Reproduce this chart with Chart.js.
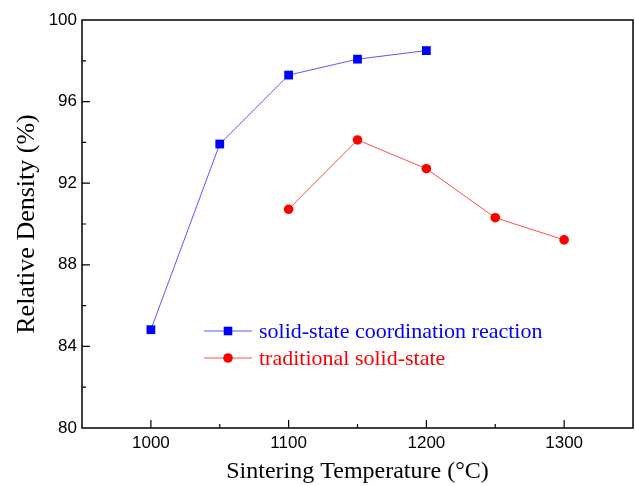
<!DOCTYPE html>
<html>
<head>
    <title>Relative Density vs Sintering Temperature</title>
    <script src="https://cdn.jsdelivr.net/npm/chart.js"></script>
    <style>
        html, body { margin: 0; padding: 0; background: #fff; overflow: hidden; }
        #wrap { width: 635px; height: 486px; position: relative; }
    </style>
</head>
<body>
    <div id="wrap"><canvas id="densityChart"></canvas></div>

    <script>
        // data
        const tempsCoord = [1000, 1050, 1100, 1150, 1200];
        const densityCoord = [84.82, 93.92, 97.3, 98.08, 98.5];
        const tempsTrad = [1100, 1150, 1200, 1250, 1300];
        const densityTrad = [90.72, 94.12, 92.71, 90.31, 89.22];
        const xLabels = [1000, 1100, 1200, 1300];
        const yLabels = [80, 84, 88, 92, 96, 100];

        const sans = '"Liberation Sans", Arial, sans-serif';
        const serif = '"Liberation Serif", "Times New Roman", serif';

        // frame, inward ticks, legend inside the plot
        const framePlugin = {
            id: 'frame',
            afterDraw(chart) {
                const ctx = chart.ctx;
                const a = chart.chartArea;
                const xs = chart.scales.x;
                const ys = chart.scales.y;
                ctx.save();
                ctx.strokeStyle = '#000';
                ctx.lineWidth = 1.5;
                ctx.strokeRect(a.left, a.top, a.right - a.left, a.bottom - a.top);

                ctx.lineWidth = 1.2;
                ctx.beginPath();
                xs.ticks.forEach(t => {
                    if (t.value <= xs.min || t.value >= xs.max) return;
                    const px = xs.getPixelForValue(t.value);
                    const len = t.value % 100 === 0 ? 8 : 4;
                    ctx.moveTo(px, a.bottom);
                    ctx.lineTo(px, a.bottom - len);
                });
                ys.ticks.forEach(t => {
                    if (t.value <= ys.min || t.value >= ys.max) return;
                    const py = ys.getPixelForValue(t.value);
                    const len = t.value % 4 === 0 ? 8 : 4;
                    ctx.moveTo(a.left, py);
                    ctx.lineTo(a.left + len, py);
                });
                ctx.stroke();

                // legend
                const items = chart.data.datasets;
                const lx = 204, ly = 331, gap = 27;
                items.forEach((ds, i) => {
                    const y = ly + i * gap;
                    ctx.strokeStyle = ds.borderColor;
                    ctx.lineWidth = 1;
                    ctx.beginPath();
                    ctx.moveTo(lx, y);
                    ctx.lineTo(lx + 48, y);
                    ctx.stroke();
                    ctx.fillStyle = ds.pointBackgroundColor;
                    ctx.beginPath();
                    if (ds.pointStyle === 'rect') {
                        ctx.rect(lx + 24 - 4.3, y - 4.3, 8.6, 8.6);
                    } else {
                        ctx.arc(lx + 24, y, 4.8, 0, Math.PI * 2);
                    }
                    ctx.fill();
                    ctx.font = '22px ' + serif;
                    ctx.textBaseline = 'middle';
                    ctx.textAlign = 'left';
                    ctx.fillText(ds.label, lx + 55, y + 1);
                });
                ctx.restore();
            }
        };

        const ctx = document.getElementById('densityChart').getContext('2d');
        new Chart(ctx, {
            type: 'line',
            data: {
                datasets: [{
                    label: 'solid-state coordination reaction',
                    data: tempsCoord.map((t, i) => ({ x: t, y: densityCoord[i] })),
                    borderColor: 'rgba(70, 70, 255, 0.9)',
                    borderWidth: 1,
                    pointStyle: 'rect',
                    pointRadius: 6.2,
                    pointBackgroundColor: '#0000ff',
                    pointBorderColor: '#0000ff',
                    pointBorderWidth: 0
                }, {
                    label: 'traditional solid-state',
                    data: tempsTrad.map((t, i) => ({ x: t, y: densityTrad[i] })),
                    borderColor: 'rgba(255, 60, 60, 0.9)',
                    borderWidth: 1,
                    pointStyle: 'circle',
                    pointRadius: 4.8,
                    pointBackgroundColor: '#ff0000',
                    pointBorderColor: '#ff0000',
                    pointBorderWidth: 0
                }]
            },
            options: {
                responsive: true,
                maintainAspectRatio: false,
                animation: false,
                layout: { autoPadding: false, padding: { top: 20, right: 2, left: 0, bottom: 0 } },
                plugins: {
                    legend: { display: false },
                    tooltip: { enabled: false }
                },
                scales: {
                    x: {
                        type: 'linear',
                        min: 950,
                        max: 1350,
                        grid: { display: false, drawTicks: false },
                        border: { display: false },
                        ticks: {
                            stepSize: 50,
                            color: '#000',
                            font: { family: sans, size: 17 },
                            padding: 5,
                            maxRotation: 0,
                            autoSkip: false,
                            callback: v => xLabels.includes(v) ? String(v) : ''
                        },
                        title: {
                            display: true,
                            text: 'Sintering Temperature (°C)',
                            color: '#000',
                            font: { family: serif, size: 24 },
                            padding: { top: 4, bottom: 0 }
                        },
                        afterFit: s => {
                            s.height = 58;
                            s.paddingLeft = 0;
                            s.paddingRight = 0;
                        }
                    },
                    y: {
                        min: 80,
                        max: 100,
                        grid: { display: false, drawTicks: false },
                        border: { display: false },
                        ticks: {
                            stepSize: 2,
                            color: '#000',
                            font: { family: sans, size: 17 },
                            padding: 5,
                            autoSkip: false,
                            callback: v => yLabels.includes(v) ? String(v) : ''
                        },
                        title: {
                            display: true,
                            text: 'Relative Density (%)',
                            color: '#000',
                            font: { family: serif, size: 26 },
                            padding: { top: 12, bottom: 0 }
                        },
                        afterFit: s => {
                            s.width = 82;
                            s.paddingTop = 0;
                            s.paddingBottom = 0;
                        }
                    }
                }
            },
            plugins: [framePlugin]
        });
    </script>
</body>
</html>
